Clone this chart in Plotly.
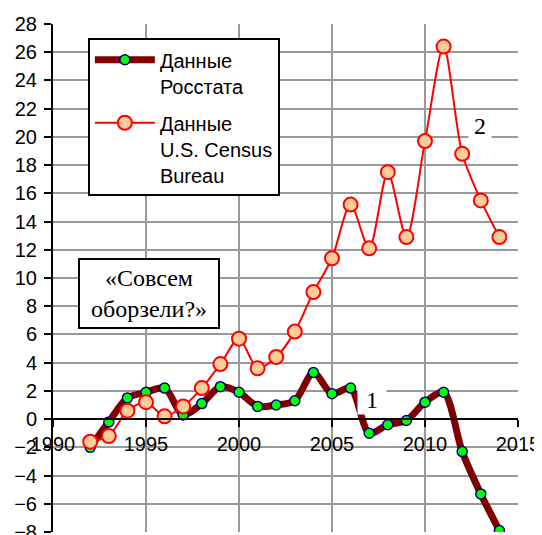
import plotly.graph_objects as go

years = list(range(1992, 2015))
rosstat = [-2.0, -0.2, 1.5, 1.9, 2.2, 0.3, 1.1, 2.3, 1.9, 0.9, 1.0, 1.3, 3.3,
           1.8, 2.2, -1.0, -0.4, -0.1, 1.2, 1.9, -2.3, -5.3, -7.9]
census = [-1.6, -1.2, 0.6, 1.2, 0.2, 0.9, 2.2, 3.9, 5.7, 3.6, 4.4, 6.2, 9.0,
          11.4, 15.2, 12.1, 17.5, 12.9, 19.7, 26.4, 18.8, 15.5, 12.9]

fig = go.Figure()
fig.add_trace(go.Scatter(
    x=years, y=rosstat, mode='lines+markers', name='Данные<br>Росстата',
    legendgroup='a',
    line=dict(color='#800000', width=7, shape='spline', smoothing=0.8),
    marker=dict(size=10, color='#00ff00', line=dict(color='#000080', width=1.5)),
))
fig.add_trace(go.Scatter(
    x=years, y=census, mode='lines+markers', name='Данные<br>U.S. Census<br>Bureau',
    legendgroup='b',
    line=dict(color='#ff0000', width=2, shape='spline', smoothing=0.8),
    marker=dict(size=14, color='#ffcc99', line=dict(color='#ff0000', width=2)),
))

serif = 'Liberation Serif, Times New Roman, serif'
fig.add_annotation(x=1995.15, y=8.87, text='«Совсем<br>оборзели?»', showarrow=False,
                   font=dict(family=serif, size=24, color='black'),
                   bgcolor='white', bordercolor='black', borderwidth=2, borderpad=5,
                   width=128, xanchor='center', yanchor='middle')
fig.add_annotation(x=2012.97, y=20.8, text='2', showarrow=False,
                   font=dict(family=serif, size=24, color='black'),
                   bgcolor='white', width=20, xanchor='center', yanchor='middle')
fig.add_annotation(x=2007.15, y=1.35, text='1', showarrow=False,
                   font=dict(family=serif, size=24, color='black'),
                   bgcolor='white', width=26, xanchor='center', yanchor='middle')

# page has an 8px body margin, so margins are shifted to compensate
fig.update_layout(
    width=542, height=535,
    margin=dict(l=45, r=32, t=16, b=11),
    paper_bgcolor='white', plot_bgcolor='white',
    font=dict(family='Liberation Sans, Arial, sans-serif', size=20, color='black'),
    showlegend=True,
    legend=dict(x=0.075, y=0.972, xanchor='left', yanchor='top',
                bgcolor='white', bordercolor='black', borderwidth=2,
                font=dict(size=20), valign='top', tracegroupgap=8,
                itemwidth=60),
    xaxis=dict(range=[1990, 2015], tickvals=[1990, 1995, 2000, 2005, 2010, 2015],
               showgrid=True, gridcolor='#999999', gridwidth=1.5,
               zeroline=False, showline=True, linecolor='black', linewidth=2,
               ticks='outside', ticklen=7, tickwidth=2, tickcolor='black',
               anchor='free', position=8 / 36, ticklabelstandoff=0,
               automargin=False),
    yaxis=dict(range=[-8, 28], dtick=2, tick0=0,
               showgrid=True, gridcolor='#999999', gridwidth=1.5,
               zeroline=False, showline=True, linecolor='black', linewidth=2,
               ticks='outside', ticklen=7, tickwidth=2, tickcolor='black',
               ticklabelstandoff=3, automargin=False),
)

fig.write_html("out.html")
